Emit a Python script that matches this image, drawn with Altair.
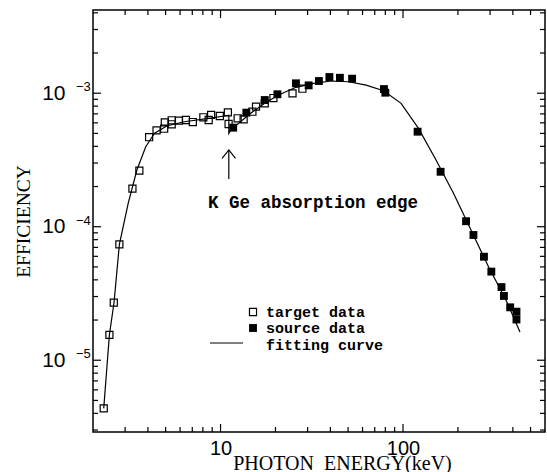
import altair as alt
import pandas as pd

# ---- data ----
target_E = [2.29, 2.46, 2.60, 2.79, 3.29, 3.59, 4.06, 4.46, 4.91, 4.95, 5.40, 5.40, 5.92, 6.46,
            7.05, 8.05, 8.61, 8.88, 9.91, 10.97, 11.07, 12.41, 13.38, 14.95, 15.65, 17.47,
            19.49, 24.8, 28.1]
target_eff = [4.36e-6, 1.55e-5, 2.70e-5, 7.38e-5, 1.93e-4, 2.63e-4, 4.68e-4, 5.27e-4, 5.42e-4,
              6.05e-4, 6.27e-4, 5.85e-4, 6.23e-4, 6.30e-4, 6.08e-4, 6.60e-4, 6.30e-4, 6.87e-4,
              6.75e-4, 7.19e-4, 5.88e-4, 6.49e-4, 6.37e-4, 7.27e-4, 7.93e-4, 8.40e-4, 9.20e-4,
              9.97e-4, 1.081e-3]

source_E = [11.73, 13.85, 17.47, 20.5, 25.9, 30.4, 34.6, 39.5, 45.1, 52.6, 78.6, 80.0, 120.2,
            160.7, 221.6, 243.2, 277.7, 304.8, 346.5, 357.3, 386.6, 418.6, 418.6]
source_eff = [5.52e-4, 7.15e-4, 8.89e-4, 9.82e-4, 1.186e-3, 1.145e-3, 1.234e-3, 1.322e-3,
              1.305e-3, 1.285e-3, 1.074e-3, 1.009e-3, 5.15e-4, 2.58e-4, 1.10e-4, 8.67e-5,
              5.96e-5, 4.61e-5, 3.53e-5, 3.03e-5, 2.49e-5, 2.31e-5, 2.02e-5]

fit_E = [2.29, 2.46, 2.61, 2.79, 3.12, 3.48, 3.89, 4.35, 5.07, 6.32, 8.61, 10.9, 11.1, 11.1,
         11.65, 12.26, 14.62, 17.47, 20.8, 25.9, 32.4, 40.4, 50.3, 62.8, 78.2, 97.6, 121.6,
         151.7, 189.1, 235.8, 294.2, 366.6, 437.5]
fit_eff = [4.36e-6, 1.55e-5, 2.73e-5, 7.38e-5, 1.50e-4, 2.66e-4, 3.97e-4, 5.01e-4, 5.68e-4,
           6.11e-4, 6.48e-4, 6.81e-4, 6.85e-4, 5.0e-4, 5.61e-4, 5.78e-4, 7.07e-4, 8.40e-4,
           9.70e-4, 1.107e-3, 1.186e-3, 1.234e-3, 1.219e-3, 1.151e-3, 1.044e-3, 8.40e-4,
           5.45e-4, 3.16e-4, 1.78e-4, 9.44e-5, 5.01e-5, 2.83e-5, 1.63e-5]

edge_E = [11.1]

x_major = [10, 100]
x_minor = [3, 4, 5, 6, 7, 8, 9, 20, 30, 40, 50, 60, 70, 80, 90, 200, 300, 400, 500]
y_major = [1e-5, 1e-4, 1e-3]
y_minor = [3e-6, 4e-6, 5e-6, 6e-6, 7e-6, 8e-6, 9e-6,
           2e-5, 3e-5, 4e-5, 5e-5, 6e-5, 7e-5, 8e-5, 9e-5,
           2e-4, 3e-4, 4e-4, 5e-4, 6e-4, 7e-4, 8e-4, 9e-4,
           2e-3, 3e-3, 4e-3]
y_exp_labels = ["\u22125", "\u22124", "\u22123"]

x_domain = [2, 600]
y_domain = [2.9e-6, 4.2e-3]

W, H = 452, 422

# ---- tables ----
df_target = pd.DataFrame({"E": target_E, "v": target_eff})
df_source = pd.DataFrame({"E": source_E, "v": source_eff})
df_fit = pd.DataFrame({"E": fit_E, "v": fit_eff, "order": list(range(len(fit_E)))})
df_edge = pd.DataFrame({"E": edge_E})
df_xmaj = pd.DataFrame({"E": x_major})
df_xmin = pd.DataFrame({"E": x_minor})
df_ymaj = pd.DataFrame({"v": y_major, "lab": y_exp_labels})
df_ymin = pd.DataFrame({"v": y_minor})

xs = alt.Scale(type="log", domain=x_domain, nice=False)
ys = alt.Scale(type="log", domain=y_domain, nice=False)

x_axis = alt.Axis(values=x_major, format="d", ticks=False, tickSize=0, domain=False, grid=False,
                  labelPadding=22, labelBaseline="alphabetic", labelFont="Liberation Sans",
                  labelFontSize=20, labelColor="black",
                  title="PHOTON\u00a0 ENERGY(keV)", titleFont="Liberation Serif",
                  titleFontSize=20, titleFontWeight="normal", titleColor="black",
                  titleX=249, titleY=37, titleAlign="center", titleBaseline="alphabetic")
y_axis = alt.Axis(values=y_major, labelExpr="'10'", ticks=False, tickSize=0, domain=False,
                  grid=False, labelPadding=28, labelFont="Liberation Sans", labelFontSize=21,
                  labelColor="black",
                  title="EFFICIENCY", titleFont="Liberation Serif", titleFontSize=19.5,
                  titleFontWeight="normal", titleColor="black", titleAngle=-90,
                  titleX=-70, titleY=211, titleAlign="center", titleBaseline="middle")

X = alt.X("E:Q", scale=xs, axis=x_axis)
Y = alt.Y("v:Q", scale=ys, axis=y_axis)

fit = alt.Chart(df_fit).mark_line(color="black", strokeWidth=1.2).encode(x=X, y=Y, order="order:Q")
tgt = alt.Chart(df_target).mark_point(shape="square", filled=False, size=50, color="black",
                                      strokeWidth=1.2, opacity=1).encode(x=X, y=Y)
src = alt.Chart(df_source).mark_point(shape="square", filled=True, size=62, color="black",
                                      opacity=1).encode(x=X, y=Y)

MAJ, MIN = 8, 5
def xticks(df, L):
    bot = alt.Chart(df).mark_rule(color="black", strokeWidth=1.2).encode(
        x=X, y=alt.value(H), y2=alt.value(H - L))
    top = alt.Chart(df).mark_rule(color="black", strokeWidth=1.2).encode(
        x=X, y=alt.value(0), y2=alt.value(L))
    return [bot, top]

def yticks(df, L):
    left = alt.Chart(df).mark_rule(color="black", strokeWidth=1.2).encode(
        y=Y, x=alt.value(0), x2=alt.value(L))
    right = alt.Chart(df).mark_rule(color="black", strokeWidth=1.2).encode(
        y=Y, x=alt.value(W), x2=alt.value(W - L))
    return [left, right]

ticks = xticks(df_xmaj, MAJ) + xticks(df_xmin, MIN) + yticks(df_ymaj, MAJ) + yticks(df_ymin, MIN)

exps = alt.Chart(df_ymaj).mark_text(align="left", baseline="middle", dy=-6, fontSize=13,
                                    font="Liberation Sans", color="black").encode(
    y=Y, x=alt.value(-17), text="lab:N")

# arrow at the K edge
arrow_shaft = alt.Chart(df_edge).mark_rule(color="black", strokeWidth=1.2).encode(
    x=X, y=alt.value(140), y2=alt.value(169))
arrow_head = alt.Chart(df_edge).mark_point(shape="M-1,1.25L0,0L1,1.25", filled=False, size=180,
                                           color="black", strokeWidth=1.2, opacity=1).encode(
    x=X, y=alt.value(140))

mono = "Liberation Mono"
edge_txt = alt.Chart(df_edge).mark_text(align="left", baseline="middle", font=mono, fontSize=17.5,
                                        fontWeight="bold", color="black",
                                        text="K Ge absorption edge").encode(
    x=alt.value(115), y=alt.value(193))

# legend
leg_open = alt.Chart(df_edge).mark_point(shape="square", filled=False, size=50, color="black",
                                         strokeWidth=1.2, opacity=1).encode(
    x=alt.value(160), y=alt.value(302))
leg_fill = alt.Chart(df_edge).mark_point(shape="square", filled=True, size=62, color="black",
                                         opacity=1).encode(x=alt.value(160), y=alt.value(318))
leg_line = alt.Chart(df_edge).mark_rule(color="black", strokeWidth=1.2).encode(
    x=alt.value(117), x2=alt.value(150), y=alt.value(333))
def leg_text(t, y):
    return alt.Chart(df_edge).mark_text(align="left", baseline="middle", font=mono, fontSize=15,
                                        fontWeight="bold", color="black", text=t).encode(
        x=alt.value(173), y=alt.value(y))
legend = [leg_open, leg_fill, leg_line, leg_text("target data", 302),
          leg_text("source data", 318), leg_text("fitting curve", 335)]

chart = alt.layer(fit, tgt, src, *ticks, exps, arrow_shaft, arrow_head, edge_txt, *legend).properties(
    width=W, height=H,
    autosize=alt.AutoSizeParams(type="none"),
    padding={"left": 93, "top": 10, "right": 2, "bottom": 40},
    background="white",
).configure_view(stroke="black", strokeWidth=1.5)

chart.save("out.html", embed_options={"renderer": "svg", "actions": False})
